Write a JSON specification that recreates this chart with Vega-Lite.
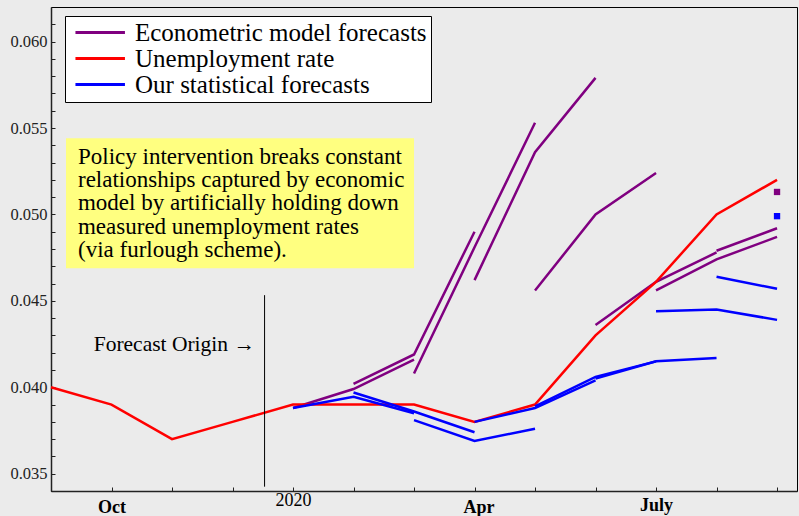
{
  "$schema": "https://vega.github.io/schema/vega-lite/v6.json",
  "width": 746,
  "height": 484,
  "autosize": "none",
  "padding": {"left": 51, "top": 7, "right": 2, "bottom": 25},
  "background": "#EBEBEB",
  "config": {
    "view": {"stroke": "#000000", "strokeWidth": 1},
    "font": "Liberation Serif",
    "axis": {"grid": false, "domainColor": "#222222", "domainWidth": 1.5, "tickColor": "#222222", "ticks": true, "tickSize": 4, "tickWidth": 1, "labelFont": "Liberation Serif", "title": null, "labelOverlap": false, "labelFlush": false}
  },
  "resolve": {"axis": {"y": "independent"}},
  "data": {"values": [
    {"series": "Unemployment rate", "id": "U", "t": 0, "v": 0.0400},
    {"series": "Unemployment rate", "id": "U", "t": 1, "v": 0.0390},
    {"series": "Unemployment rate", "id": "U", "t": 2, "v": 0.0370},
    {"series": "Unemployment rate", "id": "U", "t": 3, "v": 0.0380},
    {"series": "Unemployment rate", "id": "U", "t": 4, "v": 0.0390},
    {"series": "Unemployment rate", "id": "U", "t": 5, "v": 0.0390},
    {"series": "Unemployment rate", "id": "U", "t": 6, "v": 0.0390},
    {"series": "Unemployment rate", "id": "U", "t": 7, "v": 0.0380},
    {"series": "Unemployment rate", "id": "U", "t": 8, "v": 0.0390},
    {"series": "Unemployment rate", "id": "U", "t": 9, "v": 0.0430},
    {"series": "Unemployment rate", "id": "U", "t": 10, "v": 0.0461},
    {"series": "Unemployment rate", "id": "U", "t": 11, "v": 0.0500},
    {"series": "Unemployment rate", "id": "U", "t": 12, "v": 0.0520},

    {"series": "Econometric model forecasts", "id": "E4", "t": 4, "v": 0.0388},
    {"series": "Econometric model forecasts", "id": "E4", "t": 5, "v": 0.0399},
    {"series": "Econometric model forecasts", "id": "E4", "t": 6, "v": 0.0416},
    {"series": "Econometric model forecasts", "id": "E5", "t": 5, "v": 0.0402},
    {"series": "Econometric model forecasts", "id": "E5", "t": 6, "v": 0.0419},
    {"series": "Econometric model forecasts", "id": "E5", "t": 7, "v": 0.0490},
    {"series": "Econometric model forecasts", "id": "E6", "t": 6, "v": 0.0408},
    {"series": "Econometric model forecasts", "id": "E6", "t": 7, "v": 0.0481},
    {"series": "Econometric model forecasts", "id": "E6", "t": 8, "v": 0.0553},
    {"series": "Econometric model forecasts", "id": "E7", "t": 7, "v": 0.0462},
    {"series": "Econometric model forecasts", "id": "E7", "t": 8, "v": 0.0536},
    {"series": "Econometric model forecasts", "id": "E7", "t": 9, "v": 0.0579},
    {"series": "Econometric model forecasts", "id": "E8", "t": 8, "v": 0.0456},
    {"series": "Econometric model forecasts", "id": "E8", "t": 9, "v": 0.0500},
    {"series": "Econometric model forecasts", "id": "E8", "t": 10, "v": 0.0524},
    {"series": "Econometric model forecasts", "id": "E9", "t": 9, "v": 0.0436},
    {"series": "Econometric model forecasts", "id": "E9", "t": 10, "v": 0.0461},
    {"series": "Econometric model forecasts", "id": "E9", "t": 11, "v": 0.0478},
    {"series": "Econometric model forecasts", "id": "E10", "t": 10, "v": 0.0456},
    {"series": "Econometric model forecasts", "id": "E10", "t": 11, "v": 0.0474},
    {"series": "Econometric model forecasts", "id": "E10", "t": 12, "v": 0.0487},
    {"series": "Econometric model forecasts", "id": "E11", "t": 11, "v": 0.0479},
    {"series": "Econometric model forecasts", "id": "E11", "t": 12, "v": 0.0492},
    {"series": "Econometric model forecasts", "id": "E12", "t": 12, "v": 0.0513},

    {"series": "Our statistical forecasts", "id": "S4", "t": 4, "v": 0.0388},
    {"series": "Our statistical forecasts", "id": "S4", "t": 5, "v": 0.03945},
    {"series": "Our statistical forecasts", "id": "S4", "t": 6, "v": 0.0385},
    {"series": "Our statistical forecasts", "id": "S5", "t": 5, "v": 0.0397},
    {"series": "Our statistical forecasts", "id": "S5", "t": 6, "v": 0.0386},
    {"series": "Our statistical forecasts", "id": "S5", "t": 7, "v": 0.0374},
    {"series": "Our statistical forecasts", "id": "S6", "t": 6, "v": 0.0381},
    {"series": "Our statistical forecasts", "id": "S6", "t": 7, "v": 0.0369},
    {"series": "Our statistical forecasts", "id": "S6", "t": 8, "v": 0.0376},
    {"series": "Our statistical forecasts", "id": "S7", "t": 7, "v": 0.0380},
    {"series": "Our statistical forecasts", "id": "S7", "t": 8, "v": 0.0388},
    {"series": "Our statistical forecasts", "id": "S7", "t": 9, "v": 0.0404},
    {"series": "Our statistical forecasts", "id": "S8", "t": 8, "v": 0.0389},
    {"series": "Our statistical forecasts", "id": "S8", "t": 9, "v": 0.0406},
    {"series": "Our statistical forecasts", "id": "S8", "t": 10, "v": 0.0415},
    {"series": "Our statistical forecasts", "id": "S9", "t": 9, "v": 0.0405},
    {"series": "Our statistical forecasts", "id": "S9", "t": 10, "v": 0.0415},
    {"series": "Our statistical forecasts", "id": "S9", "t": 11, "v": 0.0417},
    {"series": "Our statistical forecasts", "id": "S10", "t": 10, "v": 0.0444},
    {"series": "Our statistical forecasts", "id": "S10", "t": 11, "v": 0.0445},
    {"series": "Our statistical forecasts", "id": "S10", "t": 12, "v": 0.0439},
    {"series": "Our statistical forecasts", "id": "S11", "t": 11, "v": 0.0464},
    {"series": "Our statistical forecasts", "id": "S11", "t": 12, "v": 0.0457},
    {"series": "Our statistical forecasts", "id": "S12", "t": 12, "v": 0.0499}
  ]},
  "layer": [
    {
      "data": {"values": [{}]},
      "mark": {"type": "rect", "fill": "#FFFF80"},
      "encoding": {
        "x": {"datum": 0.248, "type": "quantitative", "scale": {"domain": [0, 12.33], "nice": false, "zero": false},
          "axis": {
            "values": [0, 1, 2, 3, 4, 5, 6, 7, 8, 9, 10, 11, 12],
            "labelExpr": "datum.value == 1 ? 'Oct' : datum.value == 4 ? '2020' : datum.value == 7 ? 'Apr' : datum.value == 10 ? 'July' : ''",
            "labelFontSize": 18,
            "labelColor": "#000000",
            "labelPadding": -4,
            "labelBaseline": "top",
            "labelOverlap": false,
            "labelFontWeight": {"condition": {"test": "datum.value == 4", "value": "normal"}, "value": "bold"},
            "encoding": {
              "ticks": {"y2": {"value": -4}},
              "labels": {
                "dy": {"value": {"signal": "datum.value == 4 ? 0 : (datum.value == 10 ? 5 : 7)"}},
                "dx": {"value": {"signal": "datum.value == 7 ? 4 : 0"}}
              }
            }
          }},
        "x2": {"datum": 6.0},
        "y": {"datum": 0.0544, "type": "quantitative", "scale": {"domain": [0.034, 0.062], "nice": false, "zero": false},
          "axis": {
            "orient": "left",
            "values": [0.035, 0.040, 0.045, 0.050, 0.055, 0.060],
            "format": ".3f",
            "labelFontSize": 16.5,
            "labelColor": "#222222",
            "labelPadding": 0,
            "labelOverlap": false,
            "encoding": {
              "ticks": {"x2": {"value": 4}}
            }
          }},
        "y2": {"datum": 0.04689}
      }
    },
    {
      "transform": [{"filter": "datum.series == 'Econometric model forecasts' && datum.id != 'E12'"}],
      "mark": {"type": "line", "strokeWidth": 2.5},
      "encoding": {
        "x": {"field": "t", "type": "quantitative"},
        "y": {"field": "v", "type": "quantitative",
          "axis": {
            "orient": "left",
            "values": [0.036, 0.037, 0.038, 0.039, 0.041, 0.042, 0.043, 0.044, 0.046, 0.047, 0.048, 0.049, 0.051, 0.052, 0.053, 0.054, 0.056, 0.057, 0.058, 0.059, 0.061],
            "labels": false,
            "domain": false,
            "encoding": {
              "ticks": {"x2": {"value": 4}}
            }
          }},
        "color": {"field": "series", "type": "nominal",
          "scale": {"domain": ["Econometric model forecasts", "Unemployment rate", "Our statistical forecasts"], "range": ["#800080", "#FF0000", "#0000FF"]},
          "legend": {"title": null, "orient": "none", "legendX": 14, "legendY": 9, "fillColor": "#FFFFFF", "strokeColor": "#000000", "padding": 4,
            "labelFont": "Liberation Serif", "labelFontSize": 25, "labelColor": "#000000", "labelLimit": 600,
            "symbolType": "M-0.55,0H3.95", "symbolSize": 484, "symbolStrokeWidth": 3, "labelOffset": 41, "rowPadding": 0}},
        "detail": {"field": "id"}
      }
    },
    {
      "transform": [{"filter": "datum.series == 'Unemployment rate'"}],
      "mark": {"type": "line", "strokeWidth": 2.5},
      "encoding": {
        "x": {"field": "t", "type": "quantitative"},
        "y": {"field": "v", "type": "quantitative", "axis": null},
        "color": {"field": "series", "type": "nominal", "legend": null},
        "detail": {"field": "id"}
      }
    },
    {
      "transform": [{"filter": "datum.series == 'Our statistical forecasts' && datum.id != 'S12'"}],
      "mark": {"type": "line", "strokeWidth": 2.5},
      "encoding": {
        "x": {"field": "t", "type": "quantitative"},
        "y": {"field": "v", "type": "quantitative", "axis": null},
        "color": {"field": "series", "type": "nominal", "legend": null},
        "detail": {"field": "id"}
      }
    },
    {
      "transform": [{"filter": "datum.id == 'E12' || datum.id == 'S12'"}],
      "mark": {"type": "square", "size": 40, "opacity": 1, "filled": true},
      "encoding": {
        "x": {"field": "t", "type": "quantitative"},
        "y": {"field": "v", "type": "quantitative", "axis": null},
        "color": {"field": "series", "type": "nominal", "legend": null}
      }
    },
    {
      "data": {"values": [{}]},
      "mark": {"type": "rule", "color": "#000000", "strokeWidth": 1},
      "encoding": {
        "x": {"datum": 3.53, "type": "quantitative"},
        "y": {"datum": 0.04533, "type": "quantitative", "axis": null},
        "y2": {"datum": 0.03425}
      }
    },
    {
      "data": {"values": [{}]},
      "mark": {"type": "text", "align": "right", "baseline": "middle", "fontSize": 21.5, "font": "Liberation Serif", "color": "#000000", "text": "Forecast Origin →"},
      "encoding": {
        "x": {"datum": 3.37, "type": "quantitative"},
        "y": {"datum": 0.04244, "type": "quantitative", "axis": null}
      }
    },
    {
      "data": {"values": [{}]},
      "mark": {"type": "text", "align": "left", "baseline": "top", "fontSize": 23, "lineHeight": 23.3, "font": "Liberation Serif", "color": "#000000",
        "text": ["Policy intervention breaks constant", "relationships captured by economic", "model by artificially holding down", "measured unemployment rates", "(via furlough scheme)."]},
      "encoding": {
        "x": {"datum": 0.446, "type": "quantitative"},
        "y": {"datum": 0.05398, "type": "quantitative", "axis": null}
      }
    }
  ]
}
